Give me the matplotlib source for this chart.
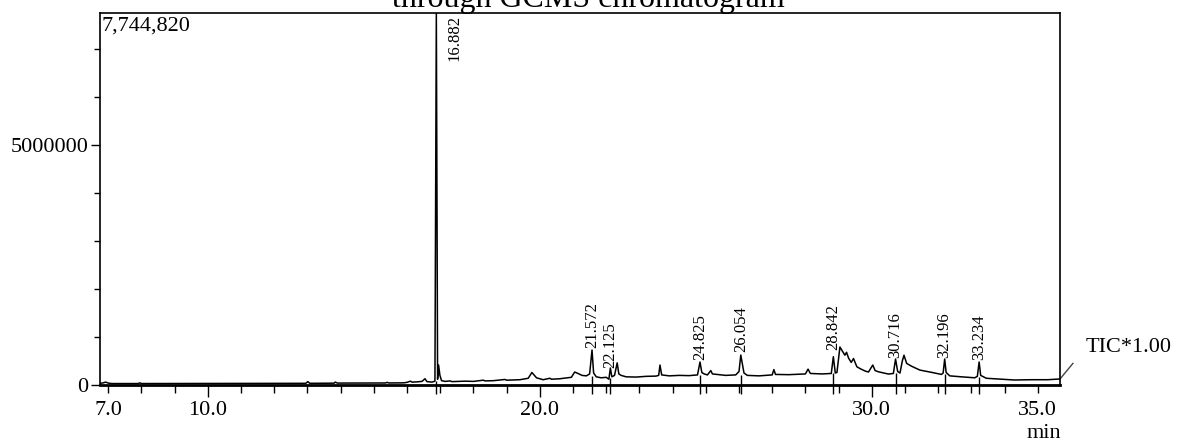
#!/usr/bin/env python3
"""
Redraw the GCMS TIC chromatogram (retention time in min vs. intensity)
and save it as out.png.
"""

import matplotlib
matplotlib.use("Agg")
import matplotlib.pyplot as plt
from matplotlib.ticker import FixedLocator, FuncFormatter

plt.rcParams["font.family"] = ["Liberation Serif", "DejaVu Serif"]

# trace: retention time (min) and intensity (counts)
rt = [6.75, 6.85, 6.92, 7.0, 7.1, 7.9, 7.95, 8.0, 9.8, 11.6, 12.95, 13.01, 13.07,
      13.8, 13.84, 13.9, 15.35, 15.4, 15.45, 15.9, 16.0, 16.1, 16.15, 16.3, 16.45,
      16.54, 16.6, 16.75, 16.84, 16.882, 16.92, 16.95, 16.99, 17.04, 17.15, 17.3,
      17.35, 17.75, 18.0, 18.3, 18.35, 18.6, 18.95, 19.0, 19.4, 19.65, 19.76, 19.9,
      20.1, 20.3, 20.35, 20.6, 20.95, 21.05, 21.15, 21.27, 21.4, 21.5, 21.572, 21.62,
      21.7, 21.85, 22.0, 22.08, 22.125, 22.17, 22.25, 22.33, 22.38, 22.45, 22.6,
      22.9, 23.2, 23.5, 23.58, 23.62, 23.67, 23.9, 24.2, 24.5, 24.75, 24.825, 24.88,
      24.95, 25.05, 25.15, 25.2, 25.6, 25.9, 26.0, 26.054, 26.1, 26.15, 26.25, 26.6,
      27.0, 27.05, 27.1, 27.5, 28.0, 28.08, 28.15, 28.5, 28.78, 28.842, 28.9, 28.95,
      29.04, 29.12, 29.19, 29.24, 29.3, 29.38, 29.45, 29.55, 29.65, 29.8, 29.9,
      30.03, 30.1, 30.2, 30.5, 30.65, 30.716, 30.78, 30.85, 30.92, 30.97, 31.05,
      31.2, 31.45, 31.75, 32.1, 32.15, 32.196, 32.24, 32.35, 32.7, 33.1, 33.18,
      33.234, 33.28, 33.45, 33.8, 34.3, 34.8, 35.3, 35.66]
tic = [35000, 45000, 60000, 40000, 30000, 30000, 45000, 30000, 32000, 33000, 35000,
       70000, 35000, 38000, 60000, 40000, 42000, 55000, 42000, 45000, 55000, 80000,
       60000, 65000, 75000, 130000, 70000, 60000, 80000, 7744820, 120000, 415000,
       200000, 90000, 75000, 85000, 70000, 80000, 75000, 100000, 85000, 90000,
       115000, 100000, 110000, 140000, 260000, 150000, 110000, 140000, 120000,
       130000, 160000, 270000, 240000, 200000, 190000, 230000, 727000, 250000,
       170000, 150000, 160000, 120000, 353000, 170000, 200000, 460000, 230000,
       200000, 170000, 165000, 180000, 185000, 200000, 415000, 210000, 190000,
       200000, 195000, 210000, 478000, 260000, 230000, 210000, 300000, 230000,
       200000, 210000, 280000, 623000, 450000, 250000, 200000, 190000, 210000,
       320000, 220000, 215000, 230000, 330000, 240000, 230000, 240000, 588000,
       250000, 260000, 790000, 700000, 620000, 680000, 560000, 470000, 550000,
       380000, 340000, 290000, 270000, 415000, 300000, 275000, 228000, 240000,
       540000, 280000, 250000, 500000, 620000, 450000, 390000, 310000, 270000,
       220000, 250000, 540000, 260000, 190000, 170000, 150000, 180000, 478000,
       200000, 140000, 125000, 104000, 110000, 110000, 125000]

# labelled peaks and where their labels sit
peak_rt = [21.572, 22.125, 24.825, 26.054, 28.842, 30.716, 32.196, 33.234]
peak_label_y = [769000, 353000, 519000, 685000, 727000, 561000, 561000, 519000]
peak_base = [180000, 150000, 200000, 210000, 240000, 240000, 220000, 170000]
main_rt = 16.882
y_max = 7744820


def main():
    fig = plt.figure(figsize=(11.83, 4.47), dpi=100)
    ax = fig.add_axes([100 / 1183, 62 / 447, 960 / 1183, 372.3 / 447])

    ax.plot(rt, tic, color="black", lw=1.1)
    ax.set_xlim(6.75, 35.67)
    ax.set_ylim(0, y_max)

    # peak marks dropping below the axis
    ax.vlines([main_rt] + peak_rt, -190000, [90000] + peak_base,
              color="black", lw=1.0, clip_on=False)

    # peak labels
    ax.text(17.44, y_max * 0.995, f"{main_rt:.3f}", rotation=90, ha="center",
            va="top", fontsize=12)
    for t, ly in zip(peak_rt, peak_label_y):
        ax.text(t, ly, f"{t:.3f}", rotation=90, ha="center", va="bottom",
                fontsize=12)

    ax.text(0.002, 0.99, f"{y_max:,}", transform=ax.transAxes, ha="left",
            va="top", fontsize=16)

    # axes styling
    for s in ax.spines.values():
        s.set_linewidth(1.2)
    ax.spines["bottom"].set_linewidth(2.0)

    ax.xaxis.set_major_locator(FixedLocator([10, 20, 30]))
    ax.xaxis.set_minor_locator(FixedLocator([m for m in range(7, 36) if m % 10]))
    ax.xaxis.set_major_formatter(FuncFormatter(lambda v, p: f"{v:.1f}"))
    ax.xaxis.set_minor_formatter(
        FuncFormatter(lambda v, p: f"{v:.1f}" if v in (7, 35) else ""))
    ax.tick_params(axis="x", which="major", direction="out", length=8.5,
                   width=1.0, pad=3, labelsize=16)
    ax.tick_params(axis="x", which="minor", direction="out", length=5.5,
                   width=1.0, pad=6, labelsize=16)

    ax.yaxis.set_major_locator(FixedLocator([0, 5000000]))
    ax.yaxis.set_minor_locator(FixedLocator([1e6, 2e6, 3e6, 4e6, 6e6, 7e6]))
    ax.yaxis.set_major_formatter(FuncFormatter(lambda v, p: f"{v:.0f}"))
    ax.tick_params(axis="y", which="major", direction="out", length=6.5,
                   width=1.0, pad=2, labelsize=16)
    ax.tick_params(axis="y", which="minor", direction="out", length=4.3,
                   width=1.0)

    # TIC leader and label
    ax.plot([35.67, 36.06], [125000, 450000], color="#444444", lw=1.0,
            clip_on=False)
    fig.text(1086 / 1183, 1 - 347 / 447, "TIC*1.00", ha="left", va="center",
             fontsize=16)
    fig.text(1044 / 1183, 1 - 433 / 447, "min", ha="center", va="center",
             fontsize=16)

    # title, cut off at the top of the image
    fig.text(588 / 1183, 1 - 7 / 447, "through GCMS chromatogram",
             ha="center", va="baseline", fontsize=23)

    fig.savefig("out.png", dpi=100)


if __name__ == "__main__":
    main()
